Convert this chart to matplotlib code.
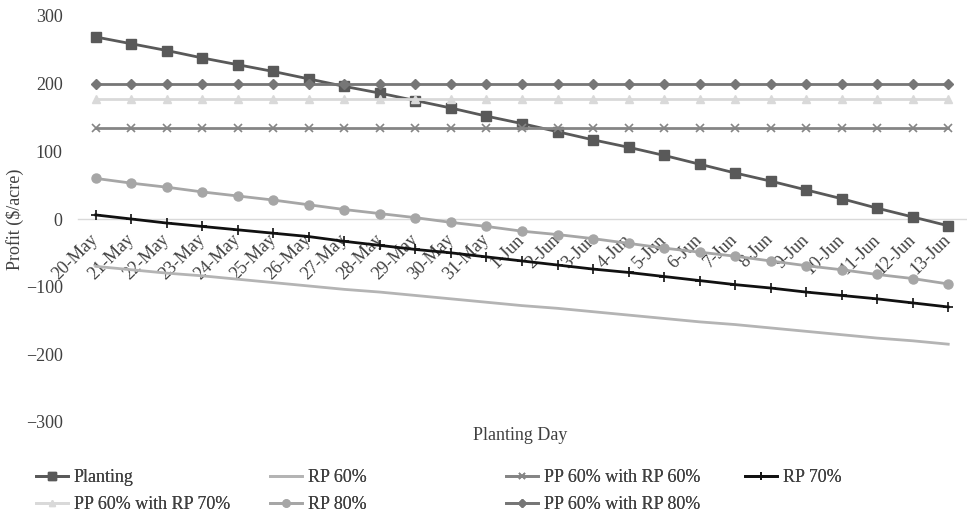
import matplotlib.pyplot as plt

plt.rcParams['font.family'] = ['Liberation Serif', 'DejaVu Serif']

# planting dates (category axis)
days = ['20-May', '21-May', '22-May', '23-May', '24-May', '25-May', '26-May',
        '27-May', '28-May', '29-May', '30-May', '31-May', '1-Jun', '2-Jun',
        '3-Jun', '4-Jun', '5-Jun', '6-Jun', '7-Jun', '8-Jun', '9-Jun',
        '10-Jun', '11-Jun', '12-Jun', '13-Jun']

# profit in $/acre
planting = [269, 259, 249, 238, 228, 218, 207, 196, 186, 175, 164, 152, 141,
            129, 117, 106, 94, 81, 68, 56, 43, 30, 16, 3, -10]
rp60 = [-70, -75, -80, -84, -89, -94, -99, -104, -108, -113, -118, -123, -128,
        -132, -137, -142, -147, -152, -156, -161, -166, -171, -176, -180, -185]
pp60_rp60 = [135] * 25
rp70 = [6, 0, -6, -11, -16, -21, -26, -33, -39, -45, -50, -56, -62, -68, -74,
        -79, -85, -91, -97, -102, -108, -113, -118, -124, -130]
pp60_rp70 = [178] * 25
rp80 = [60, 53, 47, 40, 34, 28, 21, 14, 8, 2, -5, -11, -18, -23, -29, -36,
        -43, -49, -55, -62, -69, -75, -82, -88, -96]
pp60_rp80 = [200] * 25

TXT = '#404040'
FS = 13

series = [
    ('Planting', planting, dict(color='#595959', marker='s', ms=6.5, lw=2.0)),
    ('RP 60%', rp60, dict(color='#b4b4b4', marker=None, lw=2.0)),
    ('PP 60% with RP 60%', pp60_rp60, dict(color='#858585', marker='x', ms=5.5, mew=1.2, lw=2.0)),
    ('RP 70%', rp70, dict(color='#111111', marker='+', ms=6.5, mew=1.2, lw=2.0)),
    ('PP 60% with RP 70%', pp60_rp70, dict(color='#d9d9d9', marker='^', ms=6, lw=2.0)),
    ('RP 80%', rp80, dict(color='#a6a6a6', marker='o', ms=6.5, lw=2.0)),
    ('PP 60% with RP 80%', pp60_rp80, dict(color='#767676', marker='D', ms=5, lw=2.0)),
]

fig = plt.figure(figsize=(9.67, 5.14), dpi=100)
ax = fig.add_axes([78 / 967, 1 - 422 / 514, 888 / 967, 406 / 514])

x = list(range(len(days)))
handles = {}
for name, vals, st in series:
    ln, = ax.plot(x, vals, label=name, **st)
    handles[name] = ln

ax.set_xlim(-0.5, len(days) - 0.5)
ax.set_ylim(-300, 300)
ax.set_yticks([-300, -200, -100, 0, 100, 200, 300])

for s in ['top', 'right', 'left']:
    ax.spines[s].set_visible(False)
ax.spines['bottom'].set_position(('data', 0))
ax.spines['bottom'].set_color('#d9d9d9')
ax.spines['bottom'].set_linewidth(1.0)
ax.spines['bottom'].set_zorder(0)

ax.set_xticks(x)
ax.set_xticklabels(days, rotation=45, ha='right', va='center', rotation_mode='anchor')
ax.tick_params(axis='x', length=0, pad=13, labelsize=FS, labelcolor=TXT)
ax.tick_params(axis='y', length=0, pad=11, labelsize=FS, labelcolor=TXT)

fig.text(15 / 967, 1 - 219 / 514, 'Profit ($/acre)', rotation=90, ha='center', va='center',
         fontsize=FS, color=TXT)
fig.text(520 / 967, 1 - 435 / 514, 'Planting Day', ha='center', va='center',
         fontsize=FS, color=TXT)

# legend laid out row-wise like the original, one legend per column
cols = [
    (36, ['Planting', 'PP 60% with RP 70%']),
    (270, ['RP 60%', 'RP 80%']),
    (506, ['PP 60% with RP 60%', 'PP 60% with RP 80%']),
    (745, ['RP 70%']),
]
for cx, names in cols:
    leg = fig.legend([handles[n] for n in names], names, loc='upper left',
                     bbox_to_anchor=(cx / 967, 1 - 469 / 514), frameon=False,
                     fontsize=FS, handlelength=1.75, handletextpad=0.35,
                     borderpad=0, borderaxespad=0, labelspacing=0.55,
                     labelcolor=TXT, markerscale=0.8)
    fig.add_artist(leg)

fig.savefig('out.png', dpi=100)
